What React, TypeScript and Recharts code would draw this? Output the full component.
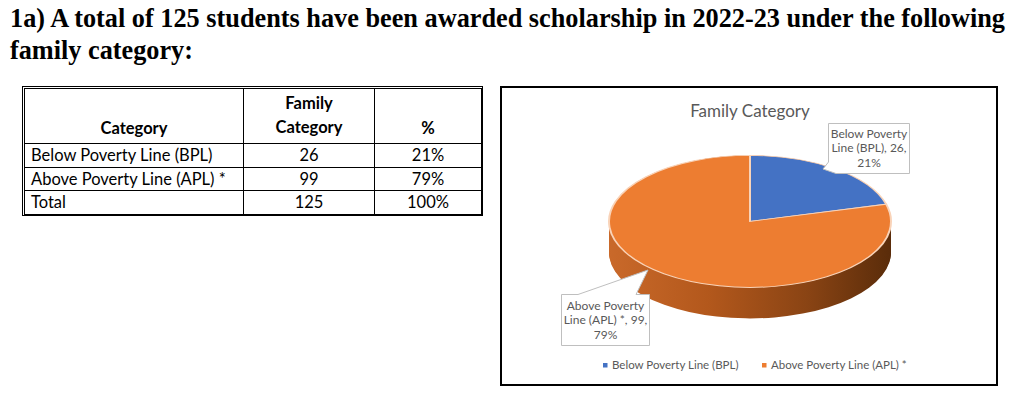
import React from 'react';
import { PieChart, Pie, Cell } from 'recharts';

// ---------- data ----------
const headingLines = [
  '1a) A total of 125 students have been awarded scholarship in 2022-23 under the following',
  'family category:',
];
const tableHeaders = ['Category', 'Family Category', '%'];
const categories = ['Below Poverty Line (BPL)', 'Above Poverty Line (APL) *'];
const counts = [26, 99];
const percents = [21, 79];
const totalLabel = 'Total';
const totalCount = 125;
const totalPercent = 100;
const chartTitle = 'Family Category';
const sliceColors = ['#4472C4', '#ED7D31'];

const pieData = categories.map((name, i) => ({ name, value: counts[i], pct: percents[i] }));

// ---------- geometry ----------
const R = 141; // horizontal radius of the pie
const SQUASH = 66 / 141; // vertical squash to make the ellipse
const DEPTH = 31 / SQUASH; // thickness (unscaled)
const CW = 300;
const CH = Math.ceil(2 * R + DEPTH + 12);
const PCX = 150;
const PCY = R + 3;
const CENTER_X = 750;
const CENTER_Y = 221;
const sideOffsets = Array.from({ length: Math.ceil(DEPTH / 4) + 1 }, (_, i) => Math.min(i * 4, DEPTH));

const FONT = 'Lato, "Open Sans", sans-serif';
const SERIF = '"Liberation Serif", "Times New Roman", Tinos, serif';
const GREY = '#595959';

function calloutLines(i: number) {
  const words = categories[i].split(' ');
  return [
    words.slice(0, 2).join(' '),
    `${words.slice(2).join(' ')}, ${counts[i]},`,
    `${percents[i]}%`,
  ];
}

const cellBase: React.CSSProperties = {
  border: '1px solid #000',
  padding: '0 6px',
  fontSize: 16.5,
  lineHeight: '22px',
};

export default function App() {
  return (
    <div style={{ position: 'absolute', left: 0, top: 0, width: 1024, height: 397, background: '#fff', overflow: 'hidden' }}>
      {/* heading */}
      <svg width={1024} height={80} style={{ position: 'absolute', left: 0, top: 0 }}>
        <text x={10} y={27} style={{ fontFamily: SERIF, fontWeight: 700, fontSize: 26.5 }}
          textLength={995} lengthAdjust="spacingAndGlyphs" fill="#000">{headingLines[0]}</text>
        <text x={10} y={59} style={{ fontFamily: SERIF, fontWeight: 700, fontSize: 26.5 }}
          textLength={183} lengthAdjust="spacingAndGlyphs" fill="#000">{headingLines[1]}</text>
      </svg>

      {/* table */}
      <div style={{ position: 'absolute', left: 22, top: 86, border: '1px solid #000', paddingLeft: 1, paddingTop: 1, background: '#fff' }}>
        <table style={{ borderCollapse: 'collapse', tableLayout: 'fixed', fontFamily: FONT, color: '#000', width: 457 }}>
          <colgroup>
            <col style={{ width: 219 }} />
            <col style={{ width: 131 }} />
            <col style={{ width: 107 }} />
          </colgroup>
          <tbody>
            <tr style={{ height: 55 }}>
              <td style={{ ...cellBase, fontWeight: 'bold', textAlign: 'center', verticalAlign: 'bottom', paddingBottom: 4 }}>{tableHeaders[0]}</td>
              <td style={{ ...cellBase, fontWeight: 'bold', textAlign: 'center', verticalAlign: 'bottom', lineHeight: '24px', paddingBottom: 4 }}>
                {tableHeaders[1].split(' ')[0]}<br />{tableHeaders[1].split(' ')[1]}
              </td>
              <td style={{ ...cellBase, fontWeight: 'bold', textAlign: 'center', verticalAlign: 'bottom', paddingBottom: 4 }}>{tableHeaders[2]}</td>
            </tr>
            {categories.map((c, i) => (
              <tr key={c} style={{ height: 23.5 }}>
                <td style={{ ...cellBase, textAlign: 'left' }}>{c}</td>
                <td style={{ ...cellBase, textAlign: 'center' }}>{counts[i]}</td>
                <td style={{ ...cellBase, textAlign: 'center' }}>{percents[i]}%</td>
              </tr>
            ))}
            <tr style={{ height: 23.5 }}>
              <td style={{ ...cellBase, textAlign: 'left' }}>{totalLabel}</td>
              <td style={{ ...cellBase, textAlign: 'center' }}>{totalCount}</td>
              <td style={{ ...cellBase, textAlign: 'center' }}>{totalPercent}%</td>
            </tr>
          </tbody>
        </table>
      </div>

      {/* chart frame */}
      <div style={{ position: 'absolute', left: 500, top: 86, width: 494, height: 296, border: '2px solid #000', background: '#fff' }} />

      {/* pie (squashed to an ellipse) */}
      <div style={{
        position: 'absolute', left: CENTER_X - PCX, top: CENTER_Y - PCY * SQUASH, width: CW, height: CH,
        transform: `scaleY(${SQUASH})`, transformOrigin: '0 0',
      }}>
        <PieChart width={CW} height={CH} margin={{ top: 0, right: 0, bottom: 0, left: 0 }}>
          <defs>
            <linearGradient id="sideGrad" x1="0" y1="0" x2="1" y2="0">
              <stop offset="0%" stopColor="#c9692a" />
              <stop offset="35%" stopColor="#b3581c" />
              <stop offset="70%" stopColor="#8a4414" />
              <stop offset="100%" stopColor="#5a2c0a" />
            </linearGradient>
          </defs>
          {sideOffsets.slice().reverse().map((off) => (
            <Pie key={`side-${off}`} data={pieData} dataKey="value" nameKey="name"
              cx={PCX} cy={PCY + off} outerRadius={R} innerRadius={0}
              startAngle={90} endAngle={-270} isAnimationActive={false}
              fill="url(#sideGrad)" stroke="none" legendType="none" />
          ))}
          <Pie data={pieData} dataKey="value" nameKey="name"
            cx={PCX} cy={PCY} outerRadius={R} innerRadius={0}
            startAngle={90} endAngle={-270} isAnimationActive={false}
            stroke="#f9d3b8" strokeWidth={2}>
            {pieData.map((d, i) => (
              <Cell key={d.name} fill={sliceColors[i]} />
            ))}
          </Pie>
        </PieChart>
      </div>

      {/* title, callouts, legend */}
      <svg width={1024} height={397} style={{ position: 'absolute', left: 0, top: 0, pointerEvents: 'none' }}>
        <text x={750} y={117} textAnchor="middle" fontFamily={FONT} fontSize={17} fill={GREY}>{chartTitle}</text>

        {/* BPL callout */}
        <path d="M828.5,123.5 H909.5 V173.5 H836 L823,169 L828.5,162 Z" fill="#fff" stroke="#bfbfbf" strokeWidth={1} />
        <text textAnchor="middle" fontFamily={FONT} fontSize={12} fill={GREY}>
          {calloutLines(0).map((l, k) => (
            <tspan key={k} x={869} y={137.5 + k * 14.7}>{l}</tspan>
          ))}
        </text>

        {/* APL callout */}
        <path d="M561.5,294.5 H578 L648,270 L636,294.5 H649.5 V345.5 H561.5 Z" fill="#fff" stroke="#bfbfbf" strokeWidth={1} />
        <text textAnchor="middle" fontFamily={FONT} fontSize={12} fill={GREY}>
          {calloutLines(1).map((l, k) => (
            <tspan key={k} x={605.5} y={310 + k * 14.3}>{l}</tspan>
          ))}
        </text>

        {/* legend */}
        {categories.map((c, i) => {
          const x0 = i === 0 ? 603 : 762;
          return (
            <g key={c}>
              <rect x={x0} y={363} width={4.5} height={4.5} fill={sliceColors[i]} />
              <text x={x0 + 9} y={369} fontFamily={FONT} fontSize={11.5} fill={GREY}>{c}</text>
            </g>
          );
        })}
      </svg>
    </div>
  );
}
